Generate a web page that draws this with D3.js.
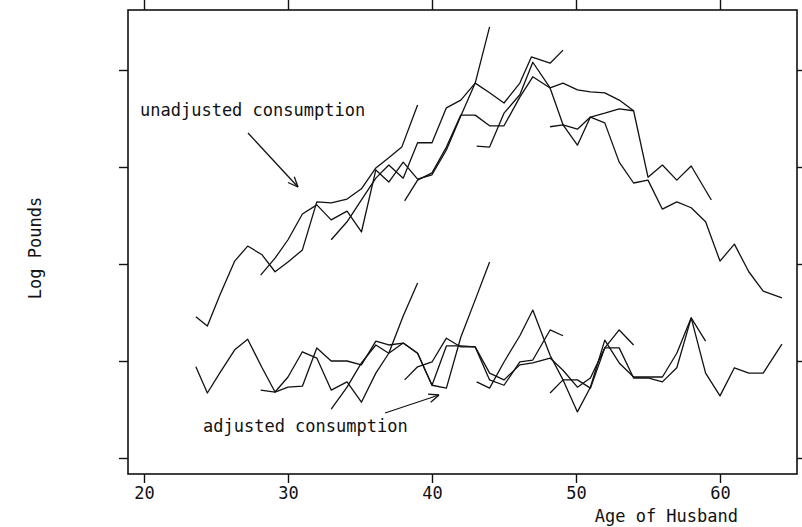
<!DOCTYPE html>
<html>
<head>
<meta charset="utf-8">
<script src="https://cdn.jsdelivr.net/npm/d3@7"></script>
<style>
  body { margin: 0; background: #fff; }
  text { font-family: "DejaVu Sans Mono", monospace; fill: #111; }
</style>
</head>
<body>
<script>
// age of husband ticks (x axis), y ticks carry no labels
var xTicks = [20, 30, 40, 50, 60];
var yTicks = [4.0, 4.2, 4.4, 4.6, 4.8];

// unadjusted consumption, one cohort per array: [age, log pounds]
var unadj1 = [[23.6,4.291],[24.4,4.272],[25.3,4.338],[26.3,4.406],[27.2,4.437],[28.2,4.419],[29.1,4.384],[30.0,4.404],[31.0,4.429],[32.0,4.528],[33.0,4.526],[34.1,4.534],[35.1,4.555],[36.1,4.598],[37.0,4.619],[37.9,4.641],[39.0,4.728]];
var unadj2 = [[28.1,4.377],[29.1,4.412],[30.0,4.450],[31.0,4.503],[32.0,4.522],[33.0,4.491],[34.1,4.509],[35.1,4.466],[36.1,4.594],[37.0,4.569],[38.0,4.610],[39.0,4.575],[40.0,4.584],[41.0,4.635],[42.0,4.705],[43.0,4.773],[44.0,4.889]];
var unadj3 = [[33.0,4.450],[34.1,4.487],[35.1,4.532],[36.1,4.577],[37.0,4.604],[38.0,4.577],[39.0,4.650],[40.0,4.650],[41.0,4.722],[42.0,4.738],[43.0,4.773],[44.0,4.753],[45.0,4.732],[46.1,4.773],[46.9,4.827],[48.2,4.814],[49.1,4.841]];
var unadj4 = [[38.1,4.530],[39.0,4.573],[40.0,4.588],[41.0,4.641],[42.0,4.707],[43.0,4.707],[44.0,4.685],[45.0,4.685],[46.1,4.744],[47.0,4.786],[48.2,4.763],[49.1,4.773],[50.1,4.759],[51.0,4.755],[52.0,4.753],[53.0,4.738],[54.0,4.716]];
var unadj5 = [[43.1,4.643],[44.0,4.641],[45.0,4.711],[46.1,4.749],[47.0,4.816],[48.2,4.763],[49.1,4.687],[50.1,4.645],[51.0,4.703],[52.0,4.711],[53.0,4.720],[54.0,4.716],[55.0,4.579],[56.0,4.604],[57.0,4.573],[58.0,4.602],[59.4,4.532]];
var unadj6 = [[48.2,4.683],[49.1,4.687],[50.1,4.678],[51.0,4.703],[52.0,4.691],[53.0,4.610],[54.0,4.567],[55.0,4.573],[56.0,4.513],[57.0,4.528],[58.0,4.516],[59.0,4.487],[60.0,4.406],[61.0,4.441],[62.0,4.384],[63.0,4.344],[64.3,4.330]];

// adjusted consumption, same cohorts
var adj1 = [[23.6,4.188],[24.4,4.134],[25.3,4.177],[26.3,4.223],[27.2,4.245],[28.2,4.186],[29.1,4.136],[30.0,4.167],[31.0,4.219],[32.0,4.206],[33.0,4.140],[34.1,4.157],[35.1,4.115],[36.1,4.175],[37.0,4.216],[38.0,4.293],[39.0,4.361]];
var adj2 = [[28.1,4.140],[29.1,4.136],[30.0,4.146],[31.0,4.148],[32.0,4.227],[33.0,4.200],[34.1,4.200],[35.1,4.192],[36.1,4.241],[37.0,4.233],[38.0,4.237],[39.0,4.216],[40.0,4.150],[41.0,4.144],[42.0,4.249],[43.0,4.326],[44.0,4.404]];
var adj3 = [[33.0,4.101],[34.1,4.146],[35.1,4.196],[36.1,4.233],[37.0,4.216],[38.0,4.237],[39.0,4.216],[40.0,4.150],[41.0,4.231],[42.0,4.231],[43.0,4.229],[44.0,4.161],[45.0,4.150],[46.1,4.198],[47.0,4.202],[48.2,4.264],[49.1,4.252]];
var adj4 = [[38.1,4.161],[39.0,4.188],[40.0,4.198],[41.0,4.247],[42.0,4.229],[43.0,4.229],[44.0,4.175],[45.0,4.161],[46.1,4.192],[47.0,4.196],[48.2,4.206],[49.1,4.181],[50.1,4.146],[51.0,4.165],[52.0,4.227],[53.0,4.264],[54.0,4.233]];
var adj5 = [[43.1,4.157],[44.0,4.144],[45.0,4.198],[46.1,4.252],[47.0,4.305],[48.2,4.212],[49.1,4.161],[50.1,4.095],[51.0,4.146],[52.0,4.243],[53.0,4.196],[54.0,4.167],[55.0,4.167],[56.0,4.167],[57.0,4.216],[58.0,4.289],[59.0,4.241]];
var adj6 = [[48.2,4.134],[49.1,4.161],[50.1,4.161],[51.0,4.144],[52.0,4.227],[53.0,4.227],[54.0,4.165],[55.0,4.165],[56.0,4.157],[57.0,4.186],[58.0,4.289],[59.0,4.175],[60.0,4.128],[61.0,4.186],[62.0,4.175],[63.0,4.175],[64.3,4.235]];

var cohorts = [unadj1, unadj2, unadj3, unadj4, unadj5, unadj6,
               adj1, adj2, adj3, adj4, adj5, adj6];

var W = 802, H = 527;
var frame = { left: 128, right: 797, top: 10, bottom: 474 };

var x = d3.scaleLinear().domain([20, 60]).range([144, 720]);
var y = d3.scaleLinear().domain([4.0, 4.8]).range([458, 70]);

var svg = d3.select("body").append("svg")
  .attr("width", W).attr("height", H);

// frame
svg.append("rect")
  .attr("x", frame.left).attr("y", frame.top)
  .attr("width", frame.right - frame.left).attr("height", frame.bottom - frame.top)
  .attr("fill", "none").attr("stroke", "#111").attr("stroke-width", 1.6);

var xBottom = d3.axisBottom(x).tickValues(xTicks).tickSize(9).tickPadding(4).tickFormat(d3.format("d"));
var xTop = d3.axisTop(x).tickValues(xTicks).tickSize(10).tickFormat("");
var yLeft = d3.axisLeft(y).tickValues(yTicks).tickSize(9).tickFormat("");
var yRight = d3.axisRight(y).tickValues(yTicks).tickSize(7).tickFormat("");

function styleAxis(g) {
  g.select(".domain").remove();
  g.selectAll(".tick line").attr("stroke", "#111").attr("stroke-width", 1.4);
  g.selectAll(".tick text").attr("font-size", 17).attr("fill", "#111")
    .attr("font-family", "DejaVu Sans Mono, monospace");
}

svg.append("g").attr("transform", "translate(0," + frame.bottom + ")").call(xBottom).call(styleAxis);
svg.append("g").attr("transform", "translate(0," + frame.top + ")").call(xTop).call(styleAxis);
svg.append("g").attr("transform", "translate(" + frame.left + ",0)").call(yLeft).call(styleAxis);
svg.append("g").attr("transform", "translate(" + frame.right + ",0)").call(yRight).call(styleAxis);

// lines
var line = d3.line().x(function (d) { return x(d[0]); }).y(function (d) { return y(d[1]); });
svg.append("g").selectAll("path").data(cohorts).enter().append("path")
  .attr("d", line)
  .attr("fill", "none").attr("stroke", "#111").attr("stroke-width", 1.3)
  .attr("stroke-linejoin", "round");

// labels
svg.append("text").attr("x", 738).attr("y", 522).attr("text-anchor", "end")
  .attr("font-size", 17).text("Age of Husband");
svg.append("text").attr("transform", "translate(41,248) rotate(-90)")
  .attr("text-anchor", "middle").attr("font-size", 17).text("Log Pounds");

svg.append("text").attr("x", 140).attr("y", 116).attr("font-size", 17).text("unadjusted consumption");
svg.append("text").attr("x", 203).attr("y", 432).attr("font-size", 17).text("adjusted consumption");

// arrows
function arrow(x1, y1, x2, y2) {
  var a = Math.atan2(y2 - y1, x2 - x1), L = 11, s = 0.4;
  var g = svg.append("g").attr("stroke", "#111").attr("stroke-width", 1.3).attr("fill", "none");
  g.append("line").attr("x1", x1).attr("y1", y1).attr("x2", x2).attr("y2", y2);
  g.append("line").attr("x1", x2).attr("y1", y2)
    .attr("x2", x2 - L * Math.cos(a - s)).attr("y2", y2 - L * Math.sin(a - s));
  g.append("line").attr("x1", x2).attr("y1", y2)
    .attr("x2", x2 - L * Math.cos(a + s)).attr("y2", y2 - L * Math.sin(a + s));
}
arrow(248, 133, 298, 187);
arrow(385, 413, 439, 395);
</script>
</body>
</html>
